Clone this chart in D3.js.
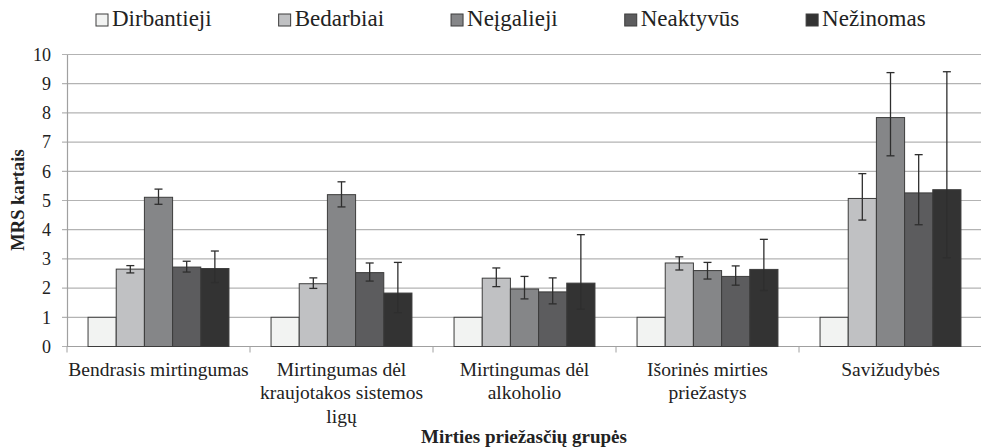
<!DOCTYPE html>
<html>
<head>
<meta charset="utf-8">
<script src="https://cdn.jsdelivr.net/npm/d3@7"></script>
<style>
  body { margin: 0; background: #fff; }
  svg { display: block; }
  svg text { font-family: "Liberation Serif", "DejaVu Serif", serif; }
</style>
</head>
<body>
<div id="chart"></div>
<script>
// categories (wrapped lines) and series
var categories = ['Bendrasis mirtingumas', 'Mirtingumas dėl kraujotakos sistemos ligų', 'Mirtingumas dėl alkoholio', 'Išorinės mirties priežastys', 'Savižudybės'];
var categoryLines = [
  ['Bendrasis mirtingumas'],
  ['Mirtingumas dėl', 'kraujotakos sistemos', 'ligų'],
  ['Mirtingumas dėl', 'alkoholio'],
  ['Išorinės mirties', 'priežastys'],
  ['Savižudybės']
];
var seriesNames = ['Dirbantieji', 'Bedarbiai', 'Neįgalieji', 'Neaktyvūs', 'Nežinomas'];

// MRS values per series (one per category)
var dirbantieji = [1, 1, 1, 1, 1];
var bedarbiai   = [2.65, 2.15, 2.34, 2.86, 5.07];
var neigalieji  = [5.11, 5.20, 1.97, 2.60, 7.84];
var neaktyvus   = [2.72, 2.53, 1.87, 2.40, 5.26];
var nezinomas   = [2.67, 1.83, 2.17, 2.64, 5.37];

// confidence interval bounds (null = no error bar)
var lowBounds = [
  [null, null, null, null, null],
  [2.52, 1.99, 2.05, 2.62, 4.33],
  [4.87, 4.78, 1.63, 2.31, 6.53],
  [2.55, 2.24, 1.46, 2.10, 4.17],
  [2.19, 1.16, 1.28, 1.92, 3.04]
];
var highBounds = [
  [null, null, null, null, null],
  [2.77, 2.35, 2.69, 3.07, 5.92],
  [5.39, 5.64, 2.40, 2.88, 9.38],
  [2.92, 2.86, 2.35, 2.76, 6.57],
  [3.27, 2.88, 3.83, 3.67, 9.41]
];

var yTicks = [0, 1, 2, 3, 4, 5, 6, 7, 8, 9, 10];

var seriesValues = [dirbantieji, bedarbiai, neigalieji, neaktyvus, nezinomas];
var colors = ['#f2f3f2', '#c0c1c3', '#858688', '#5c5c5e', '#333333'];

var width = 981, height = 448;
var margin = { top: 54.5, right: -1, bottom: 101.5, left: 67 };

var svg = d3.select('#chart').append('svg')
  .attr('width', width)
  .attr('height', height);

var x0 = d3.scaleBand()
  .domain(categories)
  .range([margin.left, width - margin.right]);

var groupPad = x0.bandwidth() * 0.115;
var x1 = d3.scaleBand()
  .domain(seriesNames)
  .range([groupPad, x0.bandwidth() - groupPad]);

var y = d3.scaleLinear()
  .domain([0, 10])
  .range([height - margin.bottom, margin.top]);

// gridlines
svg.append('g')
  .selectAll('line')
  .data(yTicks)
  .join('line')
  .attr('x1', margin.left - 5)
  .attr('x2', width)
  .attr('y1', d => y(d))
  .attr('y2', d => y(d))
  .attr('stroke', '#b3b3b3')
  .attr('stroke-width', 1.2);

// y axis
var yAxis = d3.axisLeft(y).tickValues(yTicks).tickSize(0).tickPadding(16);
svg.append('g')
  .attr('transform', 'translate(' + margin.left + ',0)')
  .call(yAxis)
  .call(g => g.select('.domain').attr('stroke', '#a0a0a0').attr('stroke-width', 1.2))
  .call(g => g.selectAll('text')
    .attr('font-size', 18)
    .attr('fill', '#222'));

// x axis
var xAxisG = svg.append('g')
  .attr('transform', 'translate(0,' + y(0) + ')');
xAxisG.append('line')
  .attr('x1', margin.left).attr('x2', width)
  .attr('stroke', '#a0a0a0').attr('stroke-width', 1.2);
xAxisG.selectAll('.xtick')
  .data(categories)
  .join('line')
  .attr('class', 'xtick')
  .attr('x1', d => x0(d))
  .attr('x2', d => x0(d))
  .attr('y1', 0).attr('y2', 6)
  .attr('stroke', '#a0a0a0');

// bars
var groups = svg.append('g')
  .selectAll('g')
  .data(categories)
  .join('g')
  .attr('transform', d => 'translate(' + x0(d) + ',0)');

groups.selectAll('rect')
  .data((d, ci) => seriesNames.map((s, si) => ({ s: s, si: si, v: seriesValues[si][ci] })))
  .join('rect')
  .attr('x', d => x1(d.s))
  .attr('width', x1.bandwidth())
  .attr('y', d => y(d.v))
  .attr('height', d => y(0) - y(d.v))
  .attr('fill', d => colors[d.si])
  .attr('stroke', '#3c3c3c')
  .attr('stroke-width', 1);

// error bars
var errs = groups.selectAll('.err')
  .data((d, ci) => seriesNames.map((s, si) => ({ s: s, lo: lowBounds[si][ci], hi: highBounds[si][ci] })).filter(d => d.lo != null))
  .join('g')
  .attr('class', 'err')
  .attr('stroke', '#2e2e2e')
  .attr('stroke-width', 1.3);

errs.append('line')
  .attr('x1', d => x1(d.s) + x1.bandwidth() / 2)
  .attr('x2', d => x1(d.s) + x1.bandwidth() / 2)
  .attr('y1', d => y(d.lo))
  .attr('y2', d => y(d.hi));
errs.append('line')
  .attr('x1', d => x1(d.s) + x1.bandwidth() / 2 - 4)
  .attr('x2', d => x1(d.s) + x1.bandwidth() / 2 + 4)
  .attr('y1', d => y(d.lo))
  .attr('y2', d => y(d.lo));
errs.append('line')
  .attr('x1', d => x1(d.s) + x1.bandwidth() / 2 - 4)
  .attr('x2', d => x1(d.s) + x1.bandwidth() / 2 + 4)
  .attr('y1', d => y(d.hi))
  .attr('y2', d => y(d.hi));

// category labels
svg.append('g')
  .selectAll('text')
  .data(categories)
  .join('text')
  .attr('text-anchor', 'middle')
  .attr('font-size', 19.5)
  .attr('fill', '#222')
  .attr('transform', d => 'translate(' + (x0(d) + x0.bandwidth() / 2) + ',' + 375.5 + ')')
  .each(function (d, i) {
    d3.select(this).selectAll('tspan')
      .data(categoryLines[i])
      .join('tspan')
      .attr('x', 0)
      .attr('y', (t, j) => j * 23.5)
      .text(t => t);
  });

// axis titles
svg.append('text')
  .attr('x', (margin.left + width) / 2)
  .attr('y', 443)
  .attr('text-anchor', 'middle')
  .attr('font-weight', 'bold')
  .attr('font-size', 19)
  .attr('fill', '#222')
  .text('Mirties priežasčių grupės');

svg.append('text')
  .attr('transform', 'translate(24,200) rotate(-90)')
  .attr('text-anchor', 'middle')
  .attr('font-weight', 'bold')
  .attr('font-size', 18.5)
  .attr('fill', '#222')
  .text('MRS kartais');

// legend
var legend = svg.append('g').attr('transform', 'translate(96,0)');
var lx = 0;
seriesNames.forEach(function (name, i) {
  var item = legend.append('g').attr('transform', 'translate(' + lx + ',0)');
  item.append('rect')
    .attr('x', 0).attr('y', 14)
    .attr('width', 12).attr('height', 12)
    .attr('fill', colors[i])
    .attr('stroke', '#3c3c3c');
  var t = item.append('text')
    .attr('x', 16).attr('y', 26)
    .attr('font-size', 23)
    .attr('fill', '#222')
    .text(name);
  lx += 16 + t.node().getComputedTextLength() + 67;
});
</script>
</body>
</html>
